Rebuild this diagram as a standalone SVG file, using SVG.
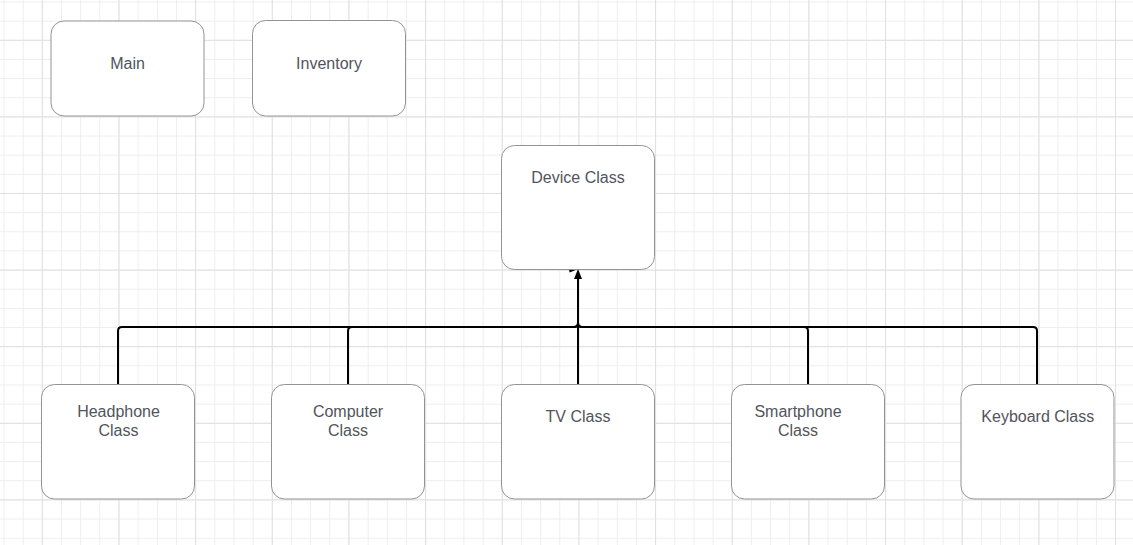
<svg xmlns="http://www.w3.org/2000/svg" width="1133" height="545" viewBox="0 0 1133 545">
  <defs>
    <pattern id="minor" patternUnits="userSpaceOnUse" x="3.5" y="1.5" width="19.165" height="19.15">
      <path d="M0.5,0 V19.15 M0,0.5 H19.165" fill="none" stroke="#ededed" stroke-width="1"/>
    </pattern>
    <pattern id="major" patternUnits="userSpaceOnUse" x="41.8" y="39.8" width="76.66" height="76.6">
      <path d="M0.5,0 V76.6 M0,0.5 H76.66" fill="none" stroke="#e0e0e0" stroke-width="1"/>
    </pattern>
    <marker id="arrow" viewBox="0 0 10 8" refX="0" refY="4" markerWidth="10" markerHeight="8" markerUnits="userSpaceOnUse" orient="auto" overflow="visible">
      <path d="M0,0 L10,4 L0,8 z" fill="#000"/>
    </marker>
  </defs>
  <style>
    .box { fill: #ffffff; stroke: #939393; stroke-width: 1; }
    .label { font-family: "Liberation Sans", Arial, sans-serif; font-size: 16px; fill: #51545b; text-anchor: middle; }
    .conn { fill: none; stroke: #000000; stroke-width: 2; }
  </style>
  <rect width="1133" height="545" fill="#ffffff"/>
  <rect width="1133" height="545" fill="url(#minor)"/>
  <rect width="1133" height="545" fill="url(#major)"/>

  <g id="connectors">
    <path class="conn" d="M118,384 V331 Q118,327 122,327 H574 Q578,327 578,323 V290"/>
    <path class="conn" d="M348,384 V331 Q348,327 352,327 H574 Q578,327 578,323 V290"/>
    <path class="conn" d="M808,384 V331 Q808,327 804,327 H582 Q578,327 578,323 V290"/>
    <path class="conn" d="M1037,384 V331 Q1037,327 1033,327 H582 Q578,327 578,323 V290"/>
    <path class="conn" d="M578,384 V279" marker-end="url(#arrow)"/>
    <path d="M568.5,266.3 L576.8,269.6 L569.6,272.4 z" fill="#000"/>
  </g>

  <g id="node-main">
    <rect class="box" x="51" y="21" width="153" height="95" rx="13" ry="13"/>
    <text class="label" x="127.5" y="68.7">Main</text>
  </g>
  <g id="node-inventory">
    <rect class="box" x="252.5" y="20.5" width="153" height="95.5" rx="13" ry="13"/>
    <text class="label" x="329" y="68.7">Inventory</text>
  </g>
  <g id="node-device">
    <rect class="box" x="501.5" y="145.5" width="153" height="124" rx="13" ry="13"/>
    <text class="label" x="578" y="182.5">Device Class</text>
  </g>
  <g id="node-headphone">
    <rect class="box" x="41.5" y="384.5" width="153" height="114.5" rx="13" ry="13"/>
    <text class="label" x="118.5" y="416.5">Headphone</text>
    <text class="label" x="118.5" y="435.5">Class</text>
  </g>
  <g id="node-computer">
    <rect class="box" x="271.5" y="384.5" width="153" height="114.5" rx="13" ry="13"/>
    <text class="label" x="348" y="416.5">Computer</text>
    <text class="label" x="348" y="435.5">Class</text>
  </g>
  <g id="node-tv">
    <rect class="box" x="501.5" y="384.5" width="153" height="114.5" rx="13" ry="13"/>
    <text class="label" x="578" y="421.5">TV Class</text>
  </g>
  <g id="node-smartphone">
    <rect class="box" x="731.5" y="384.5" width="153" height="114.5" rx="13" ry="13"/>
    <text class="label" x="798" y="416.5">Smartphone</text>
    <text class="label" x="798" y="435.5">Class</text>
  </g>
  <g id="node-keyboard">
    <rect class="box" x="961" y="384.5" width="153" height="114.5" rx="13" ry="13"/>
    <text class="label" x="1037.8" y="421.5">Keyboard Class</text>
  </g>
</svg>
